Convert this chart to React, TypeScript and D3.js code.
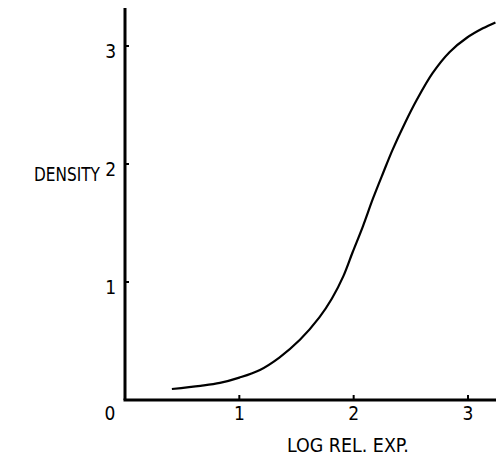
import React, { useLayoutEffect, useRef, useState } from 'react';
import * as d3 from 'd3';

// curve
const logRelExp = [0.41, 0.66, 0.83, 1.0, 1.18, 1.35, 1.53, 1.7, 1.81, 1.91, 1.99, 2.08, 2.17, 2.26, 2.34, 2.45, 2.55, 2.69, 2.84, 2.99, 3.13, 3.24];
const density = [0.093, 0.12, 0.145, 0.19, 0.255, 0.36, 0.51, 0.7, 0.86, 1.05, 1.25, 1.47, 1.71, 1.93, 2.12, 2.35, 2.54, 2.77, 2.95, 3.07, 3.15, 3.2];
const xTicks = [1, 2, 3];
const yTicks = [1, 2, 3];

const width = 496;
const height = 457;
const font = '"DejaVu Sans", sans-serif';
const txt = { fontFamily: font, fontStretch: 'condensed' as const, fontSize: 19 };

// text squeezed horizontally to a given width (the scan uses a narrow face)
const NarrowText = ({ x, y, w, children }: { x: number; y: number; w: number; children: string }) => {
  const ref = useRef<SVGTextElement>(null);
  const [k, setK] = useState(1);
  useLayoutEffect(() => {
    if (ref.current) {
      const len = ref.current.getComputedTextLength();
      if (len > 0) setK(w / len);
    }
  }, [w, children]);
  return (
    <g transform={`translate(${x},${y}) scale(${k},1)`}>
      <text ref={ref} style={txt}>{children}</text>
    </g>
  );
};

const App = () => {
  const x = d3.scaleLinear().domain([0, 3]).range([125, 468]);
  const y = d3.scaleLinear().domain([0, 3]).range([400, 46]);

  const points = logRelExp.map((v, i) => [x(v), y(density[i])] as [number, number]);
  const line = d3.line().curve(d3.curveCatmullRom.alpha(0.5));

  return (
    <svg width={width} height={height} style={{ position: 'absolute', left: 0, top: 0 }}>
      <rect width={width} height={height} fill="#fff" />
      {/* axes */}
      <line x1={x(0)} y1={8} x2={x(0)} y2={y(0)} stroke="#000" strokeWidth={3} />
      <line x1={x(0) - 1.5} y1={y(0)} x2={width} y2={y(0)} stroke="#000" strokeWidth={3} />
      {xTicks.map(t => (
        <g key={'x' + t}>
          <line x1={x(t)} x2={x(t)} y1={y(0)} y2={y(0) - 5} stroke="#000" strokeWidth={2} />
          <text x={x(t)} y={420} textAnchor="middle" style={txt}>{t}</text>
        </g>
      ))}
      {yTicks.map(t => (
        <g key={'y' + t}>
          <line x1={x(0)} x2={x(0) + 4} y1={y(t)} y2={y(t)} stroke="#000" strokeWidth={2} />
          <text x={116} y={y(t) + 12} textAnchor="end" style={txt}>{t}</text>
        </g>
      ))}
      <text x={110} y={420} textAnchor="middle" style={txt}>0</text>
      <NarrowText x={34} y={181} w={66}>DENSITY</NarrowText>
      <NarrowText x={287} y={452} w={122}>LOG REL. EXP.</NarrowText>
      {/* curve */}
      <path d={line(points) ?? ''} fill="none" stroke="#000" strokeWidth={2.2} />
    </svg>
  );
};

export default App;
